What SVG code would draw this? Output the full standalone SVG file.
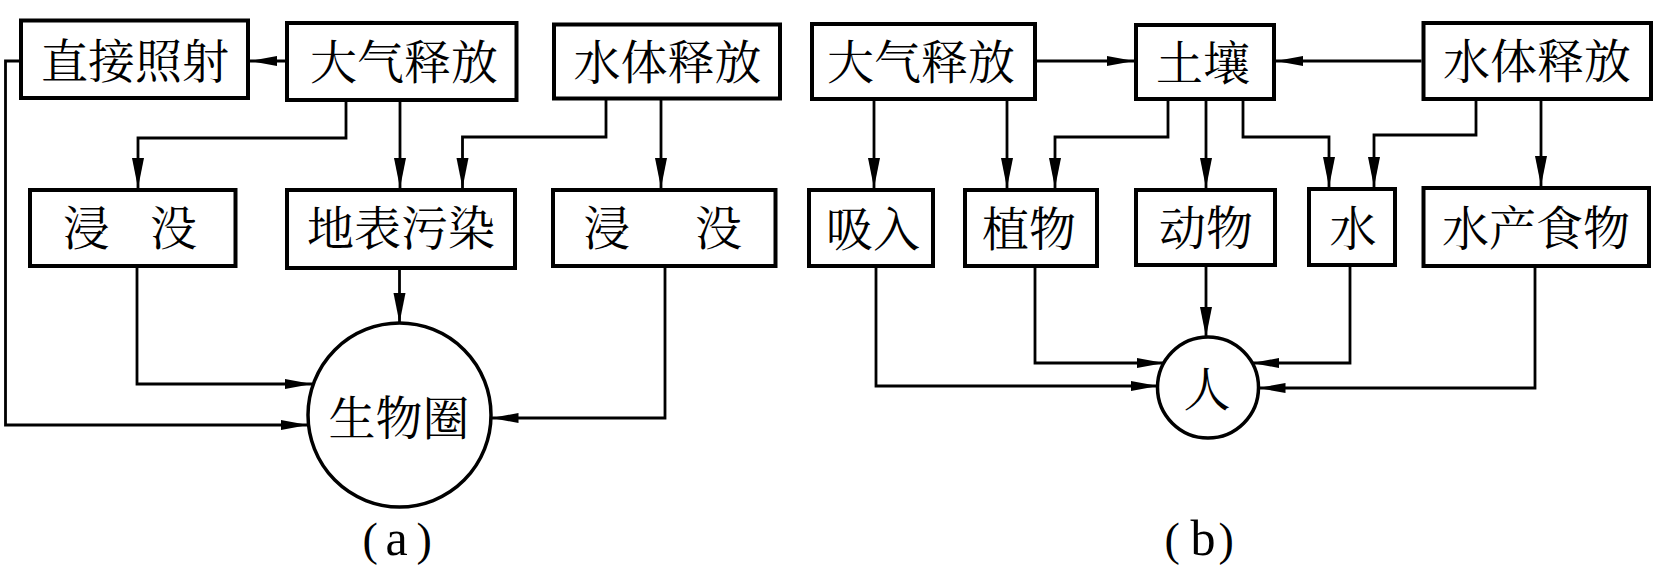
<svg xmlns="http://www.w3.org/2000/svg" width="1654" height="567" viewBox="0 0 1654 567">
<defs>
<style>
.box{fill:#fff;stroke:#000;stroke-width:4}
.circ{fill:#fff;stroke:#000;stroke-width:3.5}
.t{font-family:"Noto Serif CJK SC","Noto Sans CJK SC",serif;font-size:47px;fill:#000;text-anchor:middle}
.cap{font-family:"Liberation Serif","Noto Serif CJK SC",serif;font-size:46px;fill:#000}
.let{font-size:50px}
.ln{fill:none;stroke:#000;stroke-width:2.8}
.h{marker-end:url(#arrH)}
.v{marker-end:url(#arrV)}
</style>
<marker id="arrH" markerUnits="userSpaceOnUse" markerWidth="28" markerHeight="11" refX="27" refY="5.5" orient="auto">
<path d="M0,0.5 L27,5.5 L0,10.5 z" fill="#000"/>
</marker>
<marker id="arrV" markerUnits="userSpaceOnUse" markerWidth="31" markerHeight="13" refX="30" refY="6.5" orient="auto">
<path d="M0,0.5 L30,6.5 L0,12.5 z" fill="#000"/>
</marker>
</defs>
<rect width="1654" height="567" fill="#fff"/>

<g id="connectors">
<path class="ln h" d="M285,61 H250"/>
<path class="ln h" d="M19,61 H5.5 V425 H308"/>
<path class="ln v" d="M346,102 V138 H138 V188"/>
<path class="ln v" d="M400,102 V188"/>
<path class="ln v" d="M606,100 V137 H462.5 V188"/>
<path class="ln v" d="M661,100 V188"/>
<path class="ln h" d="M137,268 V384 H312"/>
<path class="ln v" d="M399.5,270 V323"/>
<path class="ln h" d="M665,268 V418 H491.5"/>

<path class="ln h" d="M1037,61 H1134"/>
<path class="ln h" d="M1421.5,61 H1276"/>
<path class="ln v" d="M874,101 V188"/>
<path class="ln v" d="M1007,101 V188"/>
<path class="ln v" d="M1168,101 V137 H1055 V188"/>
<path class="ln v" d="M1206,101 V188"/>
<path class="ln v" d="M1243,101 V137 H1329 V187"/>
<path class="ln v" d="M1476,101 V135 H1374 V187"/>
<path class="ln v" d="M1541,101 V186"/>
<path class="ln h" d="M876,268 V386 H1158"/>
<path class="ln h" d="M1035,268 V363 H1164"/>
<path class="ln v" d="M1206,267 V337"/>
<path class="ln h" d="M1350,267 V363 H1252"/>
<path class="ln h" d="M1535,268 V388 H1258.5"/>
</g>

<g id="a-direct"><rect class="box" x="21" y="20.5" width="227" height="77.5"/><text class="t" x="135" y="78">直接照射</text></g>
<g id="a-air"><rect class="box" x="287" y="23" width="229.5" height="77"/><text class="t" x="404" y="79">大气释放</text></g>
<g id="a-water"><rect class="box" x="554" y="24.5" width="226" height="74"/><text class="t" x="667.5" y="78.5">水体释放</text></g>
<g id="a-flood1"><rect class="box" x="30" y="190" width="205.5" height="76"/><text class="t" x="86.5" y="245">浸</text><text class="t" x="173.5" y="245">没</text></g>
<g id="a-surface"><rect class="box" x="287" y="190" width="228" height="78"/><text class="t" x="401" y="244.5">地表污染</text></g>
<g id="a-flood2"><rect class="box" x="553" y="190" width="222.5" height="76"/><text class="t" x="607" y="245">浸</text><text class="t" x="718.5" y="245">没</text></g>
<g id="a-bio"><ellipse class="circ" cx="399.5" cy="415" rx="91.5" ry="92"/><text class="t" x="399" y="435">生物圈</text></g>

<g id="b-air"><rect class="box" x="812" y="24" width="223" height="75"/><text class="t" x="921" y="79">大气释放</text></g>
<g id="b-soil"><rect class="box" x="1136" y="25" width="138" height="74"/><text class="t" x="1203" y="80">土壤</text></g>
<g id="b-water"><rect class="box" x="1423.5" y="23" width="227.5" height="76"/><text class="t" x="1537" y="78">水体释放</text></g>
<g id="b-inhale"><rect class="box" x="809" y="190" width="124" height="76"/><text class="t" x="873" y="245.5">吸入</text></g>
<g id="b-plant"><rect class="box" x="965" y="190" width="132" height="76"/><text class="t" x="1029" y="245.5">植物</text></g>
<g id="b-animal"><rect class="box" x="1136" y="190" width="139" height="75"/><text class="t" x="1206" y="245">动物</text></g>
<g id="b-w"><rect class="box" x="1309" y="189" width="86" height="76"/><text class="t" x="1353" y="245">水</text></g>
<g id="b-food"><rect class="box" x="1423.5" y="188" width="225.5" height="78"/><text class="t" x="1536" y="244.5">水产食物</text></g>
<g id="b-human"><ellipse class="circ" cx="1208" cy="387.5" rx="50.5" ry="50.5"/><text class="t" x="1207" y="406">人</text></g>

<text class="cap" y="555"><tspan x="362.5">(</tspan><tspan class="let" x="385.5">a</tspan><tspan x="416.5">)</tspan></text>
<text class="cap" y="555"><tspan x="1164.5">(</tspan><tspan class="let" x="1190.5">b</tspan><tspan x="1218.5">)</tspan></text>
</svg>
